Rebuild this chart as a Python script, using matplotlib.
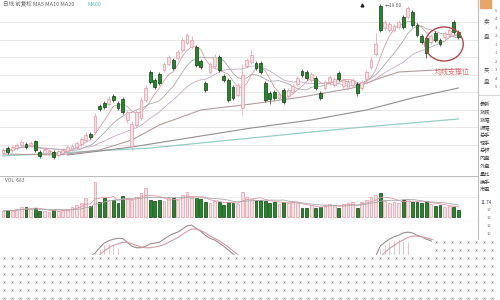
import numpy as np
import pandas as pd
import matplotlib
matplotlib.use("Agg")
import matplotlib.pyplot as plt
from matplotlib.patches import Ellipse, Polygon

plt.rcParams['font.family'] = ['Noto Sans CJK SC', 'DejaVu Sans']

W, H = 500, 300

# daily bars
opens = [4.7, 5.2, 5.0, 5.2, 5.5, 5.6, 5.5, 5.9, 4.8, 4.7,
         4.7, 4.8, 4.5, 4.7, 4.9, 5.1, 5.3, 5.6, 6.0, 6.6,
         6.8, 9.4, 9.7, 9.6, 10.4, 9.7, 10.1, 8.0, 5.4, 7.5,
         8.2, 10.0, 12.8, 12.0, 12.6, 13.0, 13.6, 14.0, 14.2, 15.0,
         15.7, 15.3, 15.3, 13.9, 11.7, 12.8, 13.4, 14.3, 12.4, 12.0,
         11.3, 10.5, 9.2, 13.4, 13.8, 13.7, 13.7, 11.7, 10.7, 10.8,
         10.2, 11.0, 10.4, 10.8, 11.6, 12.9, 12.8, 12.0, 12.2, 10.7,
         11.2, 11.8, 11.5, 12.7, 11.4, 11.2, 11.5, 11.6, 11.2, 12.1,
         13.3, 14.6, 19.4, 17.2, 17.0, 17.0, 17.3, 18.3, 18.3, 18.8,
         17.5, 16.4, 16.2, 15.8, 16.7, 16.0, 16.3, 16.6, 17.8, 16.8]
closes = [5.0, 4.8, 5.3, 5.5, 5.8, 5.3, 5.7, 5.0, 4.4, 5.0,
          4.9, 4.3, 4.9, 5.0, 5.3, 5.4, 5.7, 6.1, 6.5, 6.3,
          8.4, 9.1, 9.3, 10.1, 10.0, 9.2, 8.8, 8.8, 7.6, 8.8,
          10.0, 11.2, 11.8, 11.3, 11.7, 13.6, 14.3, 13.2, 14.8, 16.0,
          16.5, 16.0, 13.5, 13.3, 11.0, 13.6, 14.3, 13.0, 12.0, 10.0,
          10.2, 11.5, 12.5, 14.0, 14.5, 13.2, 12.8, 10.0, 10.1, 10.2,
          10.6, 9.8, 11.0, 11.4, 12.2, 12.5, 12.2, 12.6, 11.2, 10.2,
          11.8, 12.3, 12.1, 12.1, 12.0, 11.8, 12.0, 10.7, 11.8, 12.8,
          14.0, 15.6, 17.0, 17.8, 17.6, 17.4, 17.8, 17.3, 19.2, 17.5,
          16.5, 15.8, 14.7, 16.4, 16.0, 15.6, 16.7, 17.0, 16.8, 16.3]
highs = [5.2, 5.4, 5.5, 5.7, 6.0, 5.8, 5.9, 6.0, 5.0, 5.2,
         5.1, 5.0, 5.1, 5.2, 5.5, 5.6, 5.9, 6.3, 6.8, 6.8,
         8.7, 9.6, 9.9, 10.4, 10.6, 9.9, 10.3, 9.0, 7.9, 9.0,
         10.3, 11.5, 13.0, 12.2, 12.8, 13.8, 14.5, 14.2, 15.0, 16.3,
         16.7, 16.4, 15.5, 14.1, 11.9, 13.8, 14.6, 14.5, 12.6, 12.2,
         11.5, 11.7, 13.6, 14.2, 15.0, 13.9, 13.9, 11.9, 10.9, 11.0,
         10.8, 11.2, 11.2, 11.6, 12.4, 13.1, 13.0, 12.8, 12.4, 10.9,
         12.0, 12.5, 12.3, 12.9, 12.2, 12.0, 12.2, 11.8, 12.0, 13.0,
         14.3, 16.7, 19.6, 18.0, 17.8, 17.6, 18.0, 18.5, 19.4, 19.0,
         17.7, 16.6, 16.4, 16.6, 16.9, 16.2, 16.9, 17.2, 18.0, 17.0]
lows = [4.5, 4.6, 4.8, 5.0, 5.3, 5.1, 5.3, 4.8, 4.2, 4.5,
        4.5, 4.1, 4.3, 4.5, 4.7, 4.9, 5.1, 5.4, 5.8, 6.1,
        6.6, 8.9, 9.1, 9.4, 9.8, 9.0, 8.6, 7.7, 5.0, 7.3,
        8.0, 9.8, 11.6, 11.1, 11.5, 12.8, 13.4, 13.0, 14.0, 14.8,
        15.5, 15.1, 13.3, 13.1, 10.8, 12.6, 13.2, 12.8, 11.8, 9.8,
        10.0, 10.3, 8.5, 13.2, 13.6, 13.0, 12.6, 9.8, 9.6, 10.0,
        10.0, 9.6, 10.2, 10.6, 11.4, 12.3, 12.0, 11.8, 11.0, 10.0,
        11.0, 11.6, 11.3, 11.9, 11.2, 11.0, 11.3, 10.4, 11.0, 11.9,
        13.1, 14.4, 16.8, 17.0, 16.8, 16.8, 17.1, 17.1, 18.1, 17.3,
        16.3, 15.6, 14.2, 15.6, 15.8, 15.4, 16.1, 16.4, 16.6, 16.1]
volumes = [6, 7, 6, 8, 10, 10, 8, 9, 6, 6,
           5, 7, 6, 7, 8, 10, 12, 14, 19, 11,
           35, 15, 19, 17, 17, 14, 21, 18, 17, 20,
           24, 29, 17, 16, 17, 16, 19, 19, 17, 22,
           25, 20, 19, 18, 15, 14, 16, 15, 12, 15,
           14, 13, 25, 20, 18, 17, 17, 16, 14, 15,
           13, 15, 14, 15, 14, 9, 9, 12, 9, 10,
           12, 13, 12, 9, 13, 14, 15, 9, 15, 17,
           20, 22, 24, 16, 14, 15, 14, 17, 18, 15,
           15, 14, 16, 13, 11, 12, 10, 11, 10, 7]

# long averages, read at a few bars
ma60_idx = [0, 12, 21, 28, 34, 43, 54, 65, 76, 82, 86, 94, 99]
ma60_val = [4.6, 4.5, 5.0, 6.0, 7.5, 9.0, 9.6, 10.3, 11.2, 12.2, 12.8, 13.0, 13.1]
ma120_idx = [14, 28, 54, 67, 79, 89, 99]
ma120_val = [4.5, 5.3, 7.2, 8.0, 9.0, 10.2, 11.2]
ma250_idx = [0, 32, 54, 76, 99]
ma250_val = [4.4, 5.2, 6.2, 7.2, 8.1]

# KDJ panel
k_line = [40, 38, 36, 38, 41, 43, 42, 40, 36, 35,
          36, 34, 35, 37, 40, 42, 45, 49, 54, 56,
          60, 67, 73, 76, 78, 79, 79, 74, 69, 67,
          67, 69, 72, 73, 74, 78, 82, 85, 87, 91,
          95, 96, 92, 88, 83, 79, 77, 73, 69, 64,
          59, 55, 52, 50, 49, 47, 44, 40, 38, 37,
          38, 37, 39, 41, 43, 44, 43, 44, 42, 40,
          41, 43, 44, 44, 45, 45, 46, 44, 45, 47,
          49, 56, 69, 74, 78, 81, 83, 86, 87, 86,
          83, 81, 78, 76, 72, 68, 65, 64, 63, 60]
d_line = [42, 41, 39, 38, 39, 40, 41, 41, 39, 37,
          36, 35, 35, 36, 37, 39, 41, 45, 48, 51,
          54, 58, 63, 67, 70, 72, 74, 74, 72, 70,
          68, 67, 67, 68, 69, 71, 74, 77, 80, 84,
          88, 91, 91, 89, 86, 82, 79, 76, 72, 68,
          63, 58, 55, 53, 51, 49, 47, 44, 42, 40,
          39, 38, 38, 39, 40, 42, 42, 43, 43, 42,
          41, 42, 43, 43, 44, 44, 45, 45, 45, 46,
          48, 50, 55, 61, 66, 70, 74, 77, 80, 82,
          82, 81, 80, 78, 76, 73, 70, 68, 66, 64]
kd_bar_idx = [19, 20, 21, 22, 23, 24, 25, 81, 82, 83, 84, 85, 86, 87, 88]
kd_bar_val = [55, 60, 66, 70, 72, 70, 67, 56, 66, 70, 74, 76, 78, 76, 74]

grid_levels = [17.8, 16.05, 14.3, 12.55, 10.8, 9.05, 7.3, 5.55]
side_rows = ['最新', '涨跌', '涨幅', '振幅', '总手', '现手', '总额',
             '内盘', '外盘', '量比', '换手', '市盈']

UP_FACE, UP_EDGE = '#f9dfe4', '#e39aa7'
DN_FACE, DN_EDGE = '#1e8c24', '#0f3d12'


def px_box(x0, y0, x1, y1):
    return [x0 / W, 1 - y1 / H, (x1 - x0) / W, (y1 - y0) / H]


n = len(closes)
idx = np.arange(n)
o = np.array(opens)
c = np.array(closes)
up = c >= o
xlim = (-3 / 4.6, 475 / 4.6)

fig = plt.figure(figsize=(5, 3), dpi=100)
fig.patch.set_facecolor('white')

# ---- price panel
ax = fig.add_axes(px_box(0, 0, 478, 162))
ax.set_xlim(*xlim)
ax.set_ylim(3.8, 20.0)
for lv in grid_levels:
    ax.axhline(lv, color='#e4e4e4', lw=0.6, zorder=0)
for s in ax.spines.values():
    s.set_visible(False)
ax.set_xticks([])
ax.set_yticks([])

ax.plot(ma250_idx, ma250_val, color='#93cfc6', lw=0.9, zorder=1)
ax.plot(ma120_idx, ma120_val, color='#8f8f8f', lw=0.8, zorder=1)
ax.plot(ma60_idx, ma60_val, color='#b39c9c', lw=0.8, zorder=1)

cs = pd.Series(closes)
ax.plot(idx, cs.rolling(5, min_periods=1).mean(), color='#dc9aa8', lw=0.6, zorder=2)
ax.plot(idx, cs.rolling(10, min_periods=1).mean(), color='#a9a9a9', lw=0.6, zorder=2)
ax.plot(idx, cs.rolling(20, min_periods=1).mean(), color='#c8aac6', lw=0.6, zorder=2)

ax.vlines(idx[up], np.array(lows)[up], np.array(highs)[up], color=UP_EDGE, lw=0.5, zorder=3)
ax.vlines(idx[~up], np.array(lows)[~up], np.array(highs)[~up], color=DN_EDGE, lw=0.5, zorder=3)
body = np.abs(c - o)
body = np.where(body < 0.1, 0.1, body)
ax.bar(idx[up], body[up], bottom=o[up], width=0.62, color=UP_FACE,
       edgecolor=UP_EDGE, lw=0.5, zorder=4)
ax.bar(idx[~up], body[~up], bottom=c[~up], width=0.62, color=DN_FACE,
       edgecolor=DN_EDGE, lw=0.5, zorder=4)

top_i = int(np.argmax(highs))
ax.text(top_i + 1.0, highs[top_i] - 0.15, '←19.60', fontsize=3.5, color='#666',
        va='center', ha='left')
ax.plot([78], [19.5], marker='^', ms=2, color='#222')

ax.add_patch(Ellipse((95.9, 15.6), 8.3, 3.4, fill=False, edgecolor='#b54848', lw=1.0, zorder=6))
ax.text(97.6, 12.85, '均线支撑位', fontsize=5, color='#e06a6a', ha='center', va='center', zorder=6)

fig.text(3 / W, 1 - 4 / H, '日线 前复权 MA5 MA10 MA20', fontsize=4, color='#666', va='center')
fig.text(88 / W, 1 - 4 / H, 'MA60', fontsize=4, color='#5cc4c0', va='center')

# ---- volume panel
axv = fig.add_axes(px_box(0, 176, 478, 221))
axv.set_xlim(*xlim)
axv.set_ylim(-4, 41)
vol = np.array(volumes)
axv.bar(idx[up], vol[up], width=0.62, color=UP_FACE, edgecolor=UP_EDGE, lw=0.5)
axv.bar(idx[~up], vol[~up], width=0.62, color=DN_FACE, edgecolor=DN_EDGE, lw=0.5)
vs = pd.Series(volumes)
axv.plot(idx, vs.rolling(5, min_periods=1).mean(), color='#dc9aa8', lw=0.6)
axv.plot(idx, vs.rolling(10, min_periods=1).mean(), color='#a9a9a9', lw=0.6)
for s in axv.spines.values():
    s.set_visible(False)
axv.axhline(41, color='#bdbdbd', lw=0.8)
axv.axhline(-4, color='#bdbdbd', lw=0.8)
axv.axhline(20, color='#ececec', lw=0.5, zorder=0)
axv.set_xticks([])
axv.set_yticks([])
axv.text(0.5, 37, 'VOL  683', fontsize=3.5, color='#666', va='center')

# ---- KDJ panel
axk = fig.add_axes(px_box(0, 222, 478, 300))
axk.set_xlim(*xlim)
axk.set_ylim(0, 100)
axk.vlines(kd_bar_idx, 0, kd_bar_val, color='#e7a7b2', lw=0.5)
axk.plot(idx, k_line, color='#9a8e8e', lw=0.8)
axk.plot(idx, d_line, color='#d29aa6', lw=0.8)
axk.axis('off')

# ---- side quote panel and dotted cover
ov = fig.add_axes([0, 0, 1, 1], zorder=10)
ov.set_xlim(0, W)
ov.set_ylim(H, 0)
ov.axis('off')
ov.patch.set_alpha(0)

ov.plot([478, 478], [0, 240], color='#bdbdbd', lw=0.8)
ov.plot([478, 500], [95, 95], color='#cfcfcf', lw=0.6)
ov.add_patch(Polygon([(480, 0), (491, 0), (491, 8), (480, 8)], color='#e8a467'))
for ch, y in zip(['卖', '盘', '买', '盘'], [22, 37, 70, 82]):
    ov.text(486, y, ch, fontsize=4, color='#555', ha='center', va='center')
for k, y in enumerate(np.linspace(11, 87, 10)):
    lab = str(5 - k) if k < 5 else str(k - 4)
    ov.text(496, y, lab, fontsize=3, color='#666', ha='center', va='center')
for k, lab in enumerate(side_rows):
    ov.text(480, 104 + k * 7.8, lab, fontsize=3.8, color='#444', va='center')
ov.text(481, 202, '11.74', fontsize=3.3, color='#445', va='center')
for k, lab in enumerate(['17', '13', '12', '10']):
    ov.text(489, 210 + k * 8, lab, fontsize=3, color='#777', va='center', ha='center')

ov.add_patch(Polygon([(0, 255), (432, 255), (432, 240), (500, 240), (500, 300), (0, 300)],
                     color='white', zorder=5))
dot_x = np.arange(4, W, 8)
rows = np.arange(258, H, 8)
gx, gy = np.meshgrid(dot_x, rows)
ov.scatter(gx.ravel(), gy.ravel(), marker='x', s=1.6, color='#8a8a8a', lw=0.5, zorder=6)
rx = dot_x[dot_x >= 434]
gx2, gy2 = np.meshgrid(rx, [242, 250])
ov.scatter(gx2.ravel(), gy2.ravel(), marker='x', s=1.6, color='#8a8a8a', lw=0.5, zorder=6)

fig.savefig('out.png', dpi=100, facecolor='white')
